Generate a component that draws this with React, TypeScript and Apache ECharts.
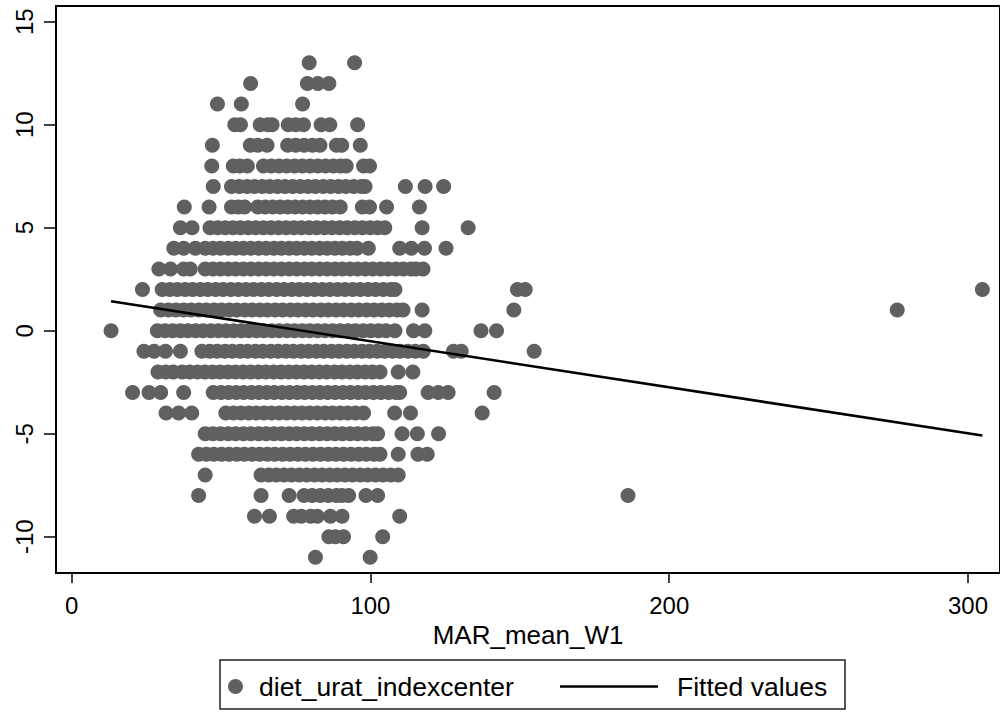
import React, { useEffect, useRef } from "react";
import * as echarts from "echarts";

// x values (MAR_mean_W1) of the points in each row of diet_urat_indexcenter
const y13 = [79.5, 94.7];
const y12 = [59.9, 78.9, 82.4, 86.1];
const y11 = [48.8, 56.8, 77.3];
const y10 = [54.6, 56.5, 63.1, 65.7, 67.1, 72.5, 75.0, 77.6, 83.5, 86.4, 95.7];
const y9 = [47.1, 59.8, 62.3, 65.4, 72.3, 75.0, 77.8, 80.6, 83.1, 88.6, 90.4, 96.6];
const y8 = [46.9, 54.1, 56.3, 58.8, 64.2, 66.8, 69.4, 72, 74.6, 77.2, 79.8, 82.4, 85, 87.6, 90, 91.9, 97.7, 99.7];
const y7 = [47.4, 53.5, 56.1, 58.7, 61.2, 63.8, 66.3, 68.9, 71.4, 74, 76.5, 79.1, 81.6, 84.2, 86.7, 89.3, 91.8, 94.4, 96.9, 98.2, 111.7, 118.3, 124.5];
const y6 = [37.7, 46.0, 53.5, 55.8, 57.9, 62.3, 64.8, 67.3, 69.8, 72.3, 74.8, 77.3, 79.8, 82.3, 84.8, 87.3, 89.9, 97.3, 99.7, 105.4, 116.4];
const y5 = [36.4, 40.3, 46.3, 48.9, 51.4, 54, 56.5, 59.1, 61.6, 64.2, 66.7, 69.3, 71.8, 74.4, 76.9, 79.5, 82, 84.6, 87.1, 89.7, 92.2, 94.8, 97.3, 99.9, 102.4, 104.8, 117.3, 132.7];
const y4 = [34.2, 37.5, 41.4, 44.7, 47.3, 49.8, 52.4, 54.9, 57.5, 60, 62.6, 65.1, 67.7, 70.2, 72.8, 75.3, 77.9, 80.4, 83, 85.5, 88.1, 90.6, 93.2, 95.5, 99.3, 109.8, 113.7, 118.1, 125.3];
const y3 = [29.2, 33.1, 37.5, 39.7, 44.7, 47.3, 49.8, 52.4, 54.9, 57.5, 60, 62.6, 65.1, 67.7, 70.2, 72.8, 75.3, 77.9, 80.4, 83, 85.5, 88.1, 90.6, 93.2, 95.7, 98.3, 100.8, 103.4, 105.9, 108.5, 111, 113.6, 115.2, 117.6];
const y2 = [23.7, 30.3, 32.9, 35.4, 38, 40.5, 43.1, 45.6, 48.2, 50.7, 53.3, 55.8, 58.4, 60.9, 63.5, 66, 68.6, 71.1, 73.7, 76.2, 78.8, 81.3, 83.9, 86.4, 89, 91.5, 94.1, 96.6, 99.2, 101.7, 104.3, 106.8, 108.2, 149.2, 151.8, 304.8];
const y1 = [29.8, 32.4, 34.9, 37.5, 40, 42.6, 45.1, 47.7, 50.2, 52.8, 55.3, 57.9, 60.4, 63, 65.5, 68.1, 70.6, 73.2, 75.7, 78.3, 80.8, 83.4, 85.9, 88.5, 91, 93.6, 96.1, 98.7, 101.2, 103.8, 106.3, 108.9, 110.9, 117.3, 148, 276.3];
const y0 = [13.2, 28.7, 31.3, 33.8, 36.4, 38.9, 41.5, 44, 46.6, 49.1, 51.7, 54.2, 56.8, 59.3, 61.9, 64.4, 67, 69.5, 72.1, 74.6, 77.2, 79.7, 82.3, 84.8, 87.4, 89.9, 92.5, 95, 97.6, 100.1, 102.7, 105.2, 108.2, 114.4, 118.2, 137, 142.2];
const yNeg1 = [24.2, 27.6, 31.4, 36.4, 43.6, 46.2, 48.7, 51.3, 53.8, 56.4, 58.9, 61.5, 64, 66.6, 69.1, 71.7, 74.2, 76.8, 79.3, 81.9, 84.4, 87, 89.5, 92.1, 94.6, 97.2, 99.7, 102.3, 104.8, 107.4, 109.9, 112.5, 115, 117.7, 127.8, 130.4, 154.8];
const yNeg2 = [28.9, 31.5, 34, 37, 39.5, 42.1, 44.6, 47.2, 49.7, 52.3, 54.8, 57.4, 59.9, 62.5, 65, 67.6, 70.1, 72.7, 75.2, 77.8, 80.3, 82.9, 85.4, 88, 90.5, 93.1, 95.6, 98.2, 100.7, 103.2, 109.3, 114.2];
const yNeg3 = [20.4, 25.9, 29.8, 37.5, 47.4, 50, 52.5, 55.1, 57.6, 60.2, 62.7, 65.3, 67.8, 70.4, 72.9, 75.5, 78, 80.6, 83.1, 85.7, 88.2, 90.8, 93.3, 95.9, 98.4, 101, 103.5, 106.1, 108.6, 109.8, 119.3, 122.7, 126, 141.4];
const yNeg4 = [31.6, 35.8, 40.2, 51.6, 54.2, 56.7, 59.3, 61.8, 64.4, 66.9, 69.5, 72, 74.6, 77.1, 79.7, 82.2, 84.8, 87.3, 89.9, 92.4, 95, 97.7, 108.1, 113.4, 137.4];
const yNeg5 = [44.7, 47.3, 49.8, 52.4, 54.9, 57.5, 60, 62.6, 65.1, 67.7, 70.2, 72.8, 75.3, 77.9, 80.4, 83, 85.5, 88.1, 90.6, 93.2, 95.7, 98.3, 100.8, 102.4, 110.6, 115.7, 122.8];
const yNeg6 = [42.5, 45.1, 47.6, 50.2, 52.7, 55.3, 57.8, 60.4, 62.9, 65.5, 68, 70.6, 73.1, 75.7, 78.2, 80.8, 83.3, 85.9, 88.4, 91, 93.5, 96.1, 98.6, 101.2, 103.2, 109.3, 115.9, 119];
const yNeg7 = [44.7, 63.4, 66, 68.5, 71.1, 73.6, 76.2, 78.7, 81.3, 83.8, 86.4, 88.9, 91.5, 94, 96.6, 99.1, 101.7, 104.2, 106.8, 109.3];
const yNeg8 = [42.5, 63.4, 72.8, 77.8, 80.5, 83.2, 85.9, 88.6, 90.5, 92.7, 98.5, 102.4, 186.2];
const yNeg9 = [61.2, 66.2, 74.3, 76.9, 80, 82.2, 86.6, 90.5, 109.8];
const yNeg10 = [86.1, 88.3, 91, 104.1];
const yNeg11 = [81.6, 99.9];

const rows: [number, number[]][] = [
  [13, y13], [12, y12], [11, y11], [10, y10], [9, y9], [8, y8], [7, y7],
  [6, y6], [5, y5], [4, y4], [3, y3], [2, y2], [1, y1], [0, y0],
  [-1, yNeg1], [-2, yNeg2], [-3, yNeg3], [-4, yNeg4], [-5, yNeg5],
  [-6, yNeg6], [-7, yNeg7], [-8, yNeg8], [-9, yNeg9], [-10, yNeg10], [-11, yNeg11],
];

// Fitted values line (endpoints at min and max x)
const fitX = [13.2, 304.8];
const fitY = [1.43, -5.09];

const xTicks = [0, 100, 200, 300];
const yTicks = [-10, -5, 0, 5, 10, 15];

const FONT = "'Liberation Sans', Arial, Helvetica, sans-serif";

export default function App() {
  const ref = useRef<HTMLDivElement>(null);

  useEffect(() => {
    document.body.style.margin = "0";
    if (!ref.current) return;
    const chart = echarts.init(ref.current, undefined, { renderer: "svg" });

    const scatterData: number[][] = [];
    rows.forEach(([y, xs]) => xs.forEach((x) => scatterData.push([x, y])));
    const fitData = fitX.map((x, i) => [x, fitY[i]]);

    chart.setOption({
      animation: false,
      backgroundColor: "#ffffff",
      textStyle: { fontFamily: FONT },
      grid: {
        left: 56,
        top: 6,
        width: 954,
        height: 567,
        show: true,
        borderColor: "#000",
        borderWidth: 2,
        backgroundColor: "transparent",
        containLabel: false,
      },
      xAxis: {
        type: "value",
        min: -5.23,
        max: 310.7,
        axisLine: { show: true, onZero: false, lineStyle: { color: "#000", width: 2 } },
        axisTick: { show: true, length: 10, customValues: xTicks, lineStyle: { color: "#000", width: 1.5 } },
        axisLabel: { customValues: xTicks, fontSize: 24, color: "#000", margin: 20, fontFamily: FONT },
        splitLine: { show: false },
        name: "MAR_mean_W1",
        nameLocation: "middle",
        nameGap: 44,
        nameTextStyle: { fontSize: 26, color: "#000", fontFamily: FONT },
      },
      yAxis: {
        type: "value",
        min: -11.76,
        max: 15.76,
        axisLine: { show: true, onZero: false, lineStyle: { color: "#000", width: 2 } },
        axisTick: { show: true, length: 12, customValues: yTicks, lineStyle: { color: "#000", width: 1.5 } },
        axisLabel: { customValues: yTicks, fontSize: 24, color: "#000", margin: 20, rotate: 90, fontFamily: FONT },
        splitLine: { show: false },
      },
      legend: [
        {
          data: [{ name: "diet_urat_indexcenter", icon: "circle" }],
          left: 228,
          top: 673,
          padding: 0,
          itemWidth: 15,
          itemHeight: 15,
          selectedMode: false,
          textStyle: { fontSize: 26.5, color: "#000", fontFamily: FONT, padding: [0, 0, 0, 11] },
        },
        {
          data: [{ name: "Fitted values", icon: "rect", itemStyle: { color: "#000" } }],
          left: 560,
          top: 673,
          padding: 0,
          itemWidth: 98,
          itemHeight: 2.6,
          selectedMode: false,
          textStyle: { fontSize: 26.5, color: "#000", fontFamily: FONT, padding: [0, 0, 0, 14] },
        },
      ],
      graphic: [
        {
          type: "rect",
          z: -1,
          shape: { x: 220, y: 660, width: 625, height: 49 },
          style: { fill: "none", stroke: "#222", lineWidth: 1.5 },
        },
      ],
      series: [
        {
          type: "scatter",
          name: "diet_urat_indexcenter",
          data: scatterData,
          symbol: "circle",
          symbolSize: 15,
          itemStyle: { color: "#606060", opacity: 1 },
        },
        {
          type: "line",
          name: "Fitted values",
          data: fitData,
          symbol: "none",
          lineStyle: { color: "#000", width: 2.6 },
          itemStyle: { color: "#000" },
        },
      ],
    });

    return () => chart.dispose();
  }, []);

  return <div ref={ref} style={{ width: 1000, height: 712 }} />;
}
